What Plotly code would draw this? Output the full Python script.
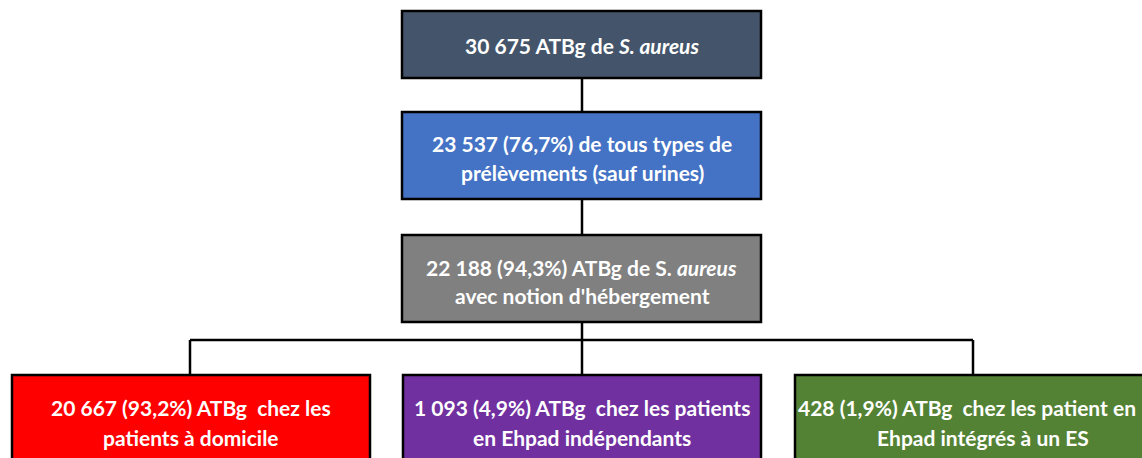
import plotly.graph_objects as go

# ---- data ----
counts = ["30 675", "23 537", "22 188", "20 667", "1 093", "428"]
percents = ["", "76,7%", "94,3%", "93,2%", "4,9%", "1,9%"]
line1 = [
    "30 675 ATBg de <i>S. aureus</i>",
    "23 537 (76,7%) de tous types de",
    "22 188 (94,3%) ATBg de S. <i>aureus</i>",
    "20 667 (93,2%) ATBg&nbsp; chez les",
    "1 093 (4,9%) ATBg&nbsp; chez les patients",
    "428 (1,9%) ATBg&nbsp; chez les patient en",
]
line2 = [
    "",
    "prélèvements (sauf urines)",
    "avec notion d'hébergement",
    "patients à domicile",
    "en Ehpad indépendants",
    "Ehpad intégrés à un ES",
]
colors = ["#44546A", "#4472C4", "#808080", "#FF0000", "#7030A0", "#548235"]

# ---- layout geometry (page pixels) ----
boxes = [
    (402, 761, 11, 78),
    (402, 761, 112, 199),
    (402, 761, 235, 322),
    (12, 370, 375, 475),
    (403, 761, 375, 475),
    (795, 1175, 375, 475),
]
text_x1 = [582, 582, 581, 191, 582, 967]
text_x2 = [582, 582, 582, 191, 582, 983]
text_y1 = [45, 143, 267, 407, 407, 407]
text_y2 = [None, 172, 295, 437, 437, 437]

W, H = 1142, 458
fig = go.Figure()
shapes = []
LW = 2.5
conn = [
    (582, 78, 582, 112),
    (582, 199, 582, 235),
    (582, 322, 582, 340),
    (190, 340, 973, 340),
    (190, 340, 190, 375),
    (582, 340, 582, 375),
    (973, 340, 973, 375),
]
for x0, y0, x1, y1 in conn:
    shapes.append(dict(type="line", xref="x", yref="y", x0=x0, y0=y0, x1=x1, y1=y1,
                       line=dict(color="black", width=LW), layer="below"))
for (x0, x1, y0, y1), c in zip(boxes, colors):
    shapes.append(dict(type="rect", xref="x", yref="y", x0=x0, x1=x1, y0=y0, y1=y1,
                       fillcolor=c, line=dict(color="black", width=LW), layer="above"))

annotations = []
font = dict(family="Lato, Open Sans, sans-serif", size=21, color="white")
for i in range(len(colors)):
    annotations.append(dict(x=text_x1[i], y=text_y1[i], xref="x", yref="y",
                            text="<b>" + line1[i] + "</b>", showarrow=False,
                            font=font, xanchor="center", yanchor="middle"))
    if line2[i]:
        annotations.append(dict(x=text_x2[i], y=text_y2[i], xref="x", yref="y",
                                text="<b>" + line2[i] + "</b>", showarrow=False,
                                font=font, xanchor="center", yanchor="middle"))

fig.update_layout(
    width=W, height=H,
    margin=dict(l=0, r=0, t=0, b=0),
    paper_bgcolor="white", plot_bgcolor="white",
    xaxis=dict(range=[0, W], visible=False, fixedrange=True),
    yaxis=dict(range=[H, 0], visible=False, fixedrange=True),
    shapes=shapes, annotations=annotations, showlegend=False,
)
fig.write_html(
    "out.html",
    config={"displayModeBar": False},
    post_script="document.body.style.margin='0';document.body.style.overflow='hidden';",
)
